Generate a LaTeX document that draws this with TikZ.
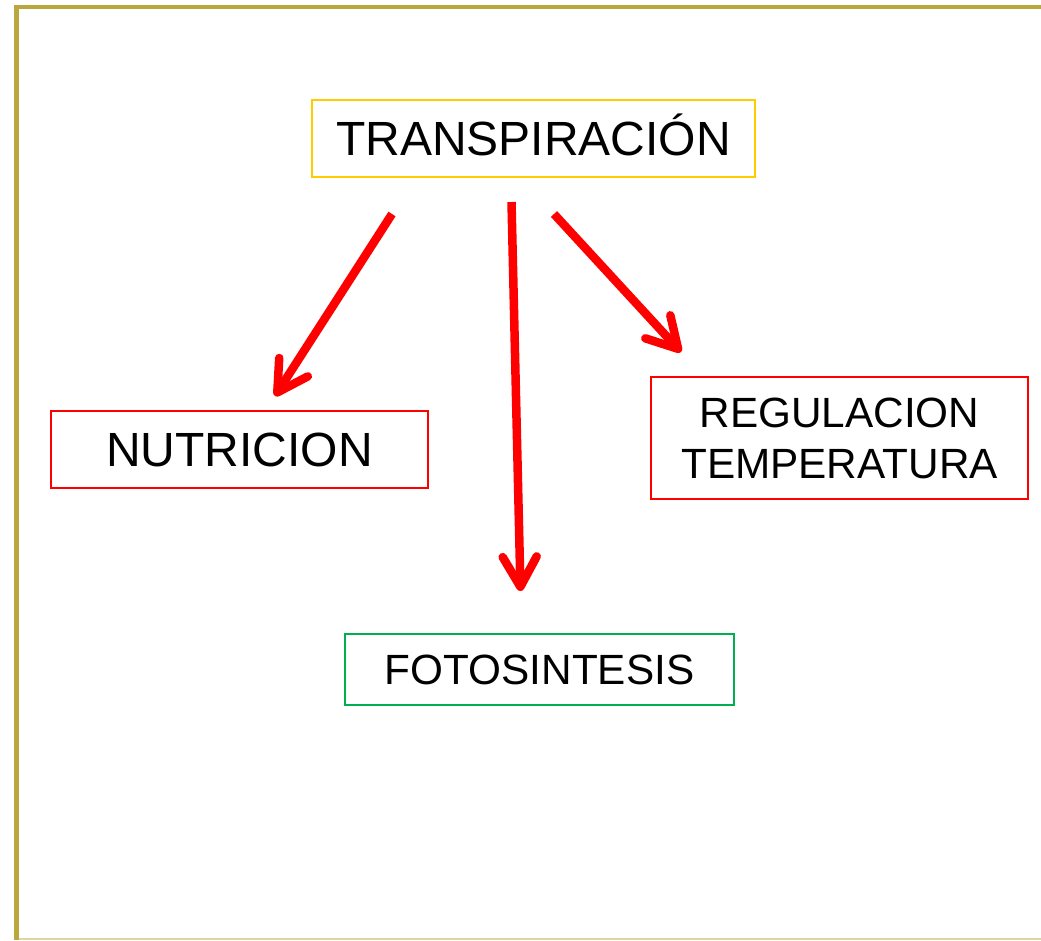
\documentclass[tikz,border=0pt]{standalone}
\usepackage{fontspec}
\setmainfont{Liberation Sans}
\usetikzlibrary{arrows.meta}
\definecolor{framegold}{RGB}{188,166,62}
\definecolor{framelight}{RGB}{222,214,160}
\definecolor{boxyellow}{RGB}{255,204,0}
\definecolor{boxred}{RGB}{255,0,0}
\definecolor{boxgreen}{RGB}{0,176,80}
\definecolor{arrowred}{RGB}{255,0,0}
\tikzset{
  box/.style={draw, line width=1.5pt, rectangle, inner sep=0pt, align=center, text=black},
  bigtext/.style={font=\fontsize{48}{57}\selectfont, text height=34.4pt, text depth=0pt},
  smalltext/.style={font=\fontsize{42.3}{51}\selectfont, text height=30.3pt, text depth=0pt},
  redarrow/.style={draw=arrowred, line width=8.5pt, -{Straight Barb[length=30pt,width=34pt,round]}}
}
\begin{document}
\begin{tikzpicture}[x=1pt,y=-1pt]
\useasboundingbox (0,0) rectangle (1041,940);
% frame
\draw[framelight, line width=1.5pt] (19,939.2) -- (1041,939.2);
\draw[framegold, line width=4.8pt, line join=miter] (16.5,940) -- (16.5,7) -- (1041,7);
% nodes
\node[box, draw=boxyellow, bigtext, minimum width=443pt, minimum height=77pt] (t) at (533.5,138.5) {TRANSPIRACIÓN};
\node[box, draw=boxred, bigtext, minimum width=377pt, minimum height=77pt] (n) at (239.5,449.5) {NUTRICION};
\node[box, draw=boxred, font=\fontsize{42.3}{51}\selectfont, text height=30.3pt, text depth=51pt, minimum width=377pt, minimum height=122pt] (r) at (839.5,438)
  {\begin{tabular}[t]{@{}c@{}}REGULACION\\TEMPERATURA\end{tabular}};
\node[box, draw=boxgreen, smalltext, minimum width=389pt, minimum height=71pt] (f) at (539.5,669.5) {FOTOSINTESIS};
% arrow ends
\coordinate (a1s) at (392,214);
\coordinate (a1e) at (275,396);
\coordinate (a2s) at (511.5,202);
\coordinate (a2e) at (520.5,591);
\coordinate (a3s) at (554,214);
\coordinate (a3e) at (681,352);
\draw[redarrow] (a1s) -- (a1e);
\draw[redarrow] (a2s) -- (a2e);
\draw[redarrow] (a3s) -- (a3e);
\end{tikzpicture}
\end{document}
